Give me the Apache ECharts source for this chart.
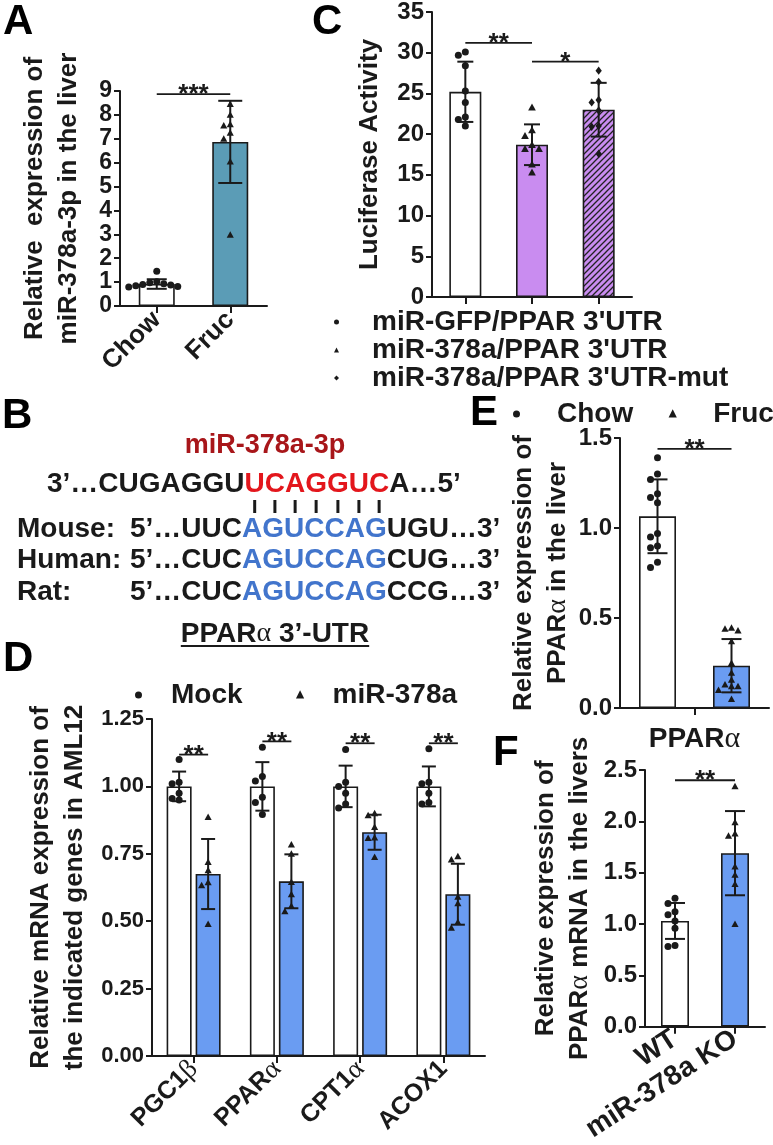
<!DOCTYPE html>
<html>
<head>
<meta charset="utf-8">
<script src="https://cdn.jsdelivr.net/npm/echarts@6.0.0/dist/echarts.min.js"></script>
<style>html,body{margin:0;padding:0;background:#fff;}#chart{width:773px;height:1145px;}</style>
</head>
<body>
<div id="chart"></div>
<script>
// ---------------- DATA ----------------
// Panel A
const catsA = ['Chow', 'Fruc'];
const meanA = [0.92, 6.87];
const sdA = [0.20, 1.72];
const ptsA = [
  [1.45, 1.02, 0.97, 0.93, 0.90, 0.88, 0.85, 0.82, 0.80],
  [8.45, 8.00, 7.60, 7.55, 7.25, 7.00, 6.05, 2.98]
];
const sigA = [[0, 1, 8.87, '***']];
const axisA = [0, 9, 1];

// Panel C
const catsC = ["miR-GFP/PPAR 3'UTR", "miR-378a/PPAR 3'UTR", "miR-378a/PPAR 3'UTR-mut"];
const meanC = [25.2, 18.7, 23.0];
const sdC = [3.7, 2.5, 3.3];
const ptsC = [
  [30.1, 29.7, 28.4, 25.3, 23.9, 22.1, 21.8, 21.0],
  [23.3, 20.5, 19.8, 18.7, 18.2, 18.2, 16.3, 15.3],
  [27.8, 26.4, 24.2, 23.9, 22.9, 21.0, 20.9, 17.6]
];
const sigC = [[0, 1, 31.2, '**'], [1, 2, 28.9, '*']];
const axisC = [0, 35, 5];

// Panel D
const catsD = ['PGC1β', 'PPARα', 'CPT1α', 'ACOX1'];
const seriesD = ['Mock', 'miR-378a'];
const meanMock = [1.0, 1.0, 1.0, 1.0];
const sdMock = [0.055, 0.09, 0.077, 0.074];
const ptsMock = [
  [1.10, 1.015, 1.01, 0.975, 0.95, 0.955],
  [1.145, 1.037, 1.02, 0.96, 0.94, 0.896],
  [1.137, 1.015, 1.0, 0.975, 0.935, 0.92],
  [1.14, 1.015, 1.01, 0.975, 0.94, 0.935]
];
const mean378 = [0.675, 0.648, 0.83, 0.60];
const sd378 = [0.13, 0.10, 0.065, 0.113];
const pts378 = [
  [0.886, 0.719, 0.689, 0.644, 0.633, 0.489],
  [0.784, 0.75, 0.645, 0.60, 0.556, 0.537],
  [0.90, 0.893, 0.849, 0.81, 0.808, 0.738],
  [0.741, 0.729, 0.59, 0.566, 0.497, 0.475]
];
const sigD = [1.118, 1.167, 1.16, 1.16];
const axisD = [0, 1.25, 0.25];

// Panel E
const catsE = ['PPARα'];
const seriesE = ['Chow', 'Fruc'];
const meanEChow = [1.065];
const sdEChow = [0.205];
const ptsEChow = [[1.39, 1.30, 1.27, 1.19, 1.17, 1.14, 0.97, 0.95, 0.90, 0.89, 0.81, 0.78]];
const meanEFruc = [0.235];
const sdEFruc = [0.148];
const ptsEFruc = [[0.445, 0.44, 0.43, 0.37, 0.25, 0.195, 0.157, 0.13, 0.12, 0.12, 0.10, 0.05]];
const sigE = 1.44;
const axisE = [0, 1.5, 0.5];

// Panel F
const catsF = ['WT', 'miR-378a KO'];
const meanF = [1.03, 1.69];
const sdF = [0.175, 0.41];
const ptsF = [
  [1.25, 1.20, 1.12, 1.09, 1.03, 0.96, 0.79, 0.78],
  [2.34, 1.99, 1.88, 1.86, 1.56, 1.48, 1.39, 1.00]
];
const sigF = [[0, 1, 2.40, '**']];
const axisF = [0, 2.5, 0.5];

// ---------------- STYLE ----------------
const FONT = '"Liberation Sans", Arial, Helvetica, sans-serif';
const GREEK = '"Liberation Serif", "DejaVu Serif", serif';
const INK = '#1a1a1a';
const TEAL = '#5b9cb6';
const PURPLE = '#c98cf0';
const BLUE = '#6a9cf2';
const RED = '#e3161c';
const DARKRED = '#a8161a';
const SEQBLUE = '#4275cc';

const mctx = document.createElement('canvas').getContext('2d');
function tw(text, size, weight, family) {
  mctx.font = weight + ' ' + size + 'px ' + family;
  return mctx.measureText(text).width;
}

function hatch() {
  const c = document.createElement('canvas');
  c.width = 6; c.height = 6;
  const x = c.getContext('2d');
  x.fillStyle = PURPLE; x.fillRect(0, 0, 6, 6);
  x.strokeStyle = '#222'; x.lineWidth = 1.3;
  x.beginPath();
  x.moveTo(0, 6); x.lineTo(6, 0);
  x.moveTo(-1, 1); x.lineTo(1, -1);
  x.moveTo(5, 7); x.lineTo(7, 5);
  x.stroke();
  return c;
}

function greekFmt(v) { return String(v).replace(/([αβ])/g, '{g|$1}'); }

function yAx(g, ax, dec, name, gap, fs) {
  return {
    type: 'value', gridIndex: g, min: ax[0], max: ax[1], interval: ax[2],
    axisLine: { show: true, lineStyle: { color: INK, width: 2 } },
    axisTick: { show: true, length: 6, lineStyle: { color: INK, width: 2 } },
    axisLabel: { fontSize: fs, fontWeight: 'bold', color: INK, fontFamily: FONT, margin: 8,
      formatter: v => v.toFixed(dec) },
    splitLine: { show: false },
    name: name, nameLocation: 'middle', nameRotate: 90, nameGap: gap,
    nameTextStyle: { fontSize: 26, fontWeight: 'bold', color: INK, fontFamily: FONT, lineHeight: 34,
      rich: { g: { fontFamily: GREEK, fontWeight: 'normal', fontSize: 28, color: INK, lineHeight: 34 } } }
  };
}

function xAx(g, data, rot, fs, margin, show) {
  return {
    type: 'category', gridIndex: g, data: data,
    axisLine: { show: true, lineStyle: { color: INK, width: 2 } },
    axisTick: { show: true, alignWithLabel: true, length: 7, lineStyle: { color: INK, width: 2 } },
    axisLabel: { show: show, interval: 0, rotate: rot, fontSize: fs, fontWeight: 'bold', color: INK,
      fontFamily: FONT, margin: margin, formatter: greekFmt,
      rich: { g: { fontFamily: GREEK, fontWeight: 'normal', fontSize: fs + 2, color: INK } } },
    splitLine: { show: false }
  };
}

function shapeAt(kind, x, y, s) {
  if (kind === 'circle') return { type: 'circle', shape: { cx: x, cy: y, r: s / 2 }, style: { fill: INK } };
  if (kind === 'triangle') return { type: 'polygon', shape: { points: [[x, y - s * 0.55], [x - s * 0.55, y + s * 0.45], [x + s * 0.55, y + s * 0.45]] }, style: { fill: INK } };
  return { type: 'polygon', shape: { points: [[x, y - s * 0.6], [x + s * 0.45, y], [x, y + s * 0.6], [x - s * 0.45, y]] }, style: { fill: INK } };
}

// error bars + individual points for one bar slot
function marks(o) {
  return {
    type: 'custom', name: o.name, xAxisIndex: o.g, yAxisIndex: o.g, z: 5,
    itemStyle: { color: INK }, encode: { x: 0, y: 1 },
    data: o.idx.map(i => [i, o.means[i], o.sds[i]]),
    renderItem: function (params, api) {
      const i = api.value(0), m = api.value(1), s = api.value(2);
      const c0 = api.coord([i, m]);
      const cx = c0[0] + (o.slot - (o.nSlots - 1) / 2) * (o.barW + o.gap);
      const yt = api.coord([i, m + s])[1], yb = api.coord([i, m - s])[1];
      const st = { stroke: INK, lineWidth: 2 };
      const ch = [
        { type: 'line', shape: { x1: cx, y1: yt, x2: cx, y2: yb }, style: st },
        { type: 'line', shape: { x1: cx - o.cap, y1: yt, x2: cx + o.cap, y2: yt }, style: st },
        { type: 'line', shape: { x1: cx - o.cap, y1: yb, x2: cx + o.cap, y2: yb }, style: st }
      ];
      const ys = o.pts[i].map(v => api.coord([i, v])[1]).sort((a, b) => a - b);
      const placed = [];
      const d = o.size;
      ys.forEach(y => {
        for (let k = 0; k < 16; k++) {
          const off = (k === 0 ? 0 : (k % 2 ? -1 : 1) * Math.ceil(k / 2)) * d;
          const x = cx + off;
          if (placed.every(p => (p[0] - x) * (p[0] - x) + (p[1] - y) * (p[1] - y) >= d * d * 0.9)) {
            placed.push([x, y]); break;
          }
        }
      });
      placed.forEach(p => ch.push(shapeAt(o.shape, p[0], p[1], o.size)));
      return { type: 'group', children: ch };
    }
  };
}

function sig(g, list, offs, fs) {
  return {
    type: 'custom', xAxisIndex: g, yAxisIndex: g, z: 6, silent: true,
    encode: { x: [0, 1], y: 2 },
    data: list.map(r => [r[0], r[1], r[2]]),
    renderItem: function (params, api) {
      const a = api.coord([api.value(0), api.value(2)]);
      const b = api.coord([api.value(1), api.value(2)]);
      const x1 = a[0] + offs[0], x2 = b[0] + offs[1], y = a[1];
      return { type: 'group', children: [
        { type: 'line', shape: { x1: x1, y1: y, x2: x2, y2: y }, style: { stroke: INK, lineWidth: 1.8 } },
        { type: 'text', style: { text: list[params.dataIndex][3], x: (x1 + x2) / 2, y: y + 1,
          align: 'center', verticalAlign: 'middle', fontSize: fs, fontWeight: 'bold', fontFamily: FONT, fill: INK } }
      ] };
    }
  };
}

function barS(name, g, vals, colors, w, gap) {
  return {
    type: 'bar', name: name, xAxisIndex: g, yAxisIndex: g, barWidth: w, barGap: gap, z: 2, silent: true,
    itemStyle: { borderColor: INK, borderWidth: 1.6 },
    data: vals.map((v, i) => ({ value: v, itemStyle: { color: colors[i % colors.length] } }))
  };
}

// ---------------- SERIES ----------------
const series = [];
// A (grid 0)
series.push(barS('A bars', 0, meanA, ['#ffffff', TEAL], 36, '0%'));
series.push(marks({ name: 'A Chow', g: 0, idx: [0], means: meanA, sds: sdA, pts: ptsA, shape: 'circle', slot: 0, nSlots: 1, barW: 36, gap: 0, cap: 10, size: 7 }));
series.push(marks({ name: 'A Fruc', g: 0, idx: [1], means: meanA, sds: sdA, pts: ptsA, shape: 'triangle', slot: 0, nSlots: 1, barW: 36, gap: 0, cap: 12, size: 6.5 }));
series.push(sig(0, sigA, [0, 0], 26));
// C (grid 1)
series.push(barS('C bars', 1, meanC, ['#ffffff', PURPLE, { image: hatch(), repeat: 'repeat' }], 32, '0%'));
['circle', 'triangle', 'diamond'].forEach((sh, k) => {
  series.push(marks({ name: catsC[k], g: 1, idx: [k], means: meanC, sds: sdC, pts: ptsC, shape: sh, slot: 0, nSlots: 1, barW: 32, gap: 0, cap: 8, size: 7 }));
});
series.push(sig(1, sigC, [0, 0], 26));
// D (grid 2)
series.push(barS(seriesD[0], 2, meanMock, ['#ffffff'], 25, '16%'));
series.push(barS(seriesD[1], 2, mean378, [BLUE], 25, '16%'));
series.push(marks({ name: seriesD[0], g: 2, idx: [0, 1, 2, 3], means: meanMock, sds: sdMock, pts: ptsMock, shape: 'circle', slot: 0, nSlots: 2, barW: 25, gap: 4, cap: 7, size: 7 }));
series.push(marks({ name: seriesD[1], g: 2, idx: [0, 1, 2, 3], means: mean378, sds: sd378, pts: pts378, shape: 'triangle', slot: 1, nSlots: 2, barW: 25, gap: 4, cap: 7, size: 6.5 }));
series.push(sig(2, catsD.map((c, i) => [i, i, sigD[i], '**']), [-14.5, 14.5], 26));
// E (grid 3)
series.push(barS(seriesE[0], 3, meanEChow, ['#ffffff'], 37, '100%'));
series.push(barS(seriesE[1], 3, meanEFruc, [BLUE], 37, '100%'));
series.push(marks({ name: seriesE[0], g: 3, idx: [0], means: meanEChow, sds: sdEChow, pts: ptsEChow, shape: 'circle', slot: 0, nSlots: 2, barW: 37, gap: 37, cap: 10, size: 7 }));
series.push(marks({ name: seriesE[1], g: 3, idx: [0], means: meanEFruc, sds: sdEFruc, pts: ptsEFruc, shape: 'triangle', slot: 1, nSlots: 2, barW: 37, gap: 37, cap: 10, size: 6.5 }));
series.push(sig(3, [[0, 0, sigE, '**']], [-37, 37], 26));
// F (grid 4)
series.push(barS('F bars', 4, meanF, ['#ffffff', BLUE], 28, '0%'));
series.push(marks({ name: 'F WT', g: 4, idx: [0], means: meanF, sds: sdF, pts: ptsF, shape: 'circle', slot: 0, nSlots: 1, barW: 28, gap: 0, cap: 10, size: 7 }));
series.push(marks({ name: 'F KO', g: 4, idx: [1], means: meanF, sds: sdF, pts: ptsF, shape: 'triangle', slot: 0, nSlots: 1, barW: 28, gap: 0, cap: 10, size: 6.5 }));
series.push(sig(4, sigF, [0, 0], 26));

// ---------------- GRAPHIC (panel letters, panel B) ----------------
const graphic = [];
[['A', 3, 22], ['B', 2, 416], ['C', 312, 22], ['D', 3, 659], ['E', 470, 413], ['F', 493, 753]].forEach(L => {
  graphic.push({ type: 'text', x: L[1], y: L[2], style: { text: L[0], fontSize: 42, fontWeight: 'bold', fontFamily: FONT, fill: '#000', align: 'left', verticalAlign: 'middle' } });
});
function seq(x, y, parts, fs) {
  const rich = {}; let str = '';
  parts.forEach((p, j) => {
    rich['p' + j] = { fill: p[1], fontSize: fs, fontWeight: p[2] || 'bold', fontFamily: p[3] || FONT };
    str += '{p' + j + '|' + p[0] + '}';
  });
  return { type: 'text', x: x, y: y, style: { text: str, rich: rich, fontSize: fs, fontWeight: 'bold', fontFamily: FONT, align: 'left', verticalAlign: 'middle' } };
}
const SF = 28;
graphic.push({ type: 'text', x: 265, y: 446, style: { text: 'miR-378a-3p', fontSize: 27, fontWeight: 'bold', fontFamily: FONT, fill: DARKRED, align: 'center', verticalAlign: 'middle' } });
const pre3 = '3’…CUGAGGU', seed = 'UCAGGUC';
graphic.push(seq(47, 484, [[pre3, INK], [seed, RED], ['A…5’', INK]], SF));
let bx = 47 + tw(pre3, SF, 'bold', FONT);
for (const ch of seed) {
  const w = tw(ch, SF, 'bold', FONT);
  graphic.push({ type: 'line', shape: { x1: bx + w / 2, y1: 500, x2: bx + w / 2, y2: 513 }, style: { stroke: INK, lineWidth: 3 } });
  bx += w;
}
[['Mouse:', 'UUC', 'UGU', 529], ['Human:', 'CUC', 'CUG', 560], ['Rat:', 'CUC', 'CCG', 592]].forEach(r => {
  graphic.push(seq(17, r[3], [[r[0], INK]], SF));
  graphic.push(seq(130, r[3], [['5’…' + r[1], INK], ['AGUCCAG', SEQBLUE], [r[2] + '…3’', INK]], SF));
});
const utrParts = [['PPAR', INK], ['α', INK, 'normal', GREEK], [' 3’-UTR', INK]];
const utrW = tw('PPAR', SF, 'bold', FONT) + tw('α', SF, 'normal', GREEK) + tw(' 3’-UTR', SF, 'bold', FONT);
graphic.push(seq(275 - utrW / 2, 634, utrParts, SF));
graphic.push({ type: 'line', shape: { x1: 275 - utrW / 2, y1: 646, x2: 275 + utrW / 2, y2: 646 }, style: { stroke: INK, lineWidth: 2 } });

// ---------------- OPTION ----------------
const legText = (pad) => ({ fontSize: 28, fontWeight: 'bold', fontFamily: FONT, color: INK, lineHeight: 26, padding: [0, 0, 0, pad] });
const option = {
  animation: false,
  backgroundColor: '#ffffff',
  grid: [
    { left: 120, top: 91, width: 147, height: 215 },
    { left: 432, top: 11, width: 200, height: 286 },
    { left: 152, top: 719, width: 333, height: 337 },
    { left: 620, top: 438, width: 149, height: 270 },
    { left: 645, top: 770, width: 120, height: 266 }
  ],
  xAxis: [
    xAx(0, catsA, 45, 26, 10, true),
    xAx(1, catsC, 0, 24, 8, false),
    xAx(2, catsD, 45, 25, 9, true),
    xAx(3, catsE, 0, 28, 16, true),
    xAx(4, catsF, 33, 28, 10, true)
  ],
  yAxis: [
    yAx(0, axisA, 0, 'Relative  expression of\nmiR-378a-3p in the liver', 34, 23),
    yAx(1, axisC, 0, 'Luciferase Activity', 45, 24),
    yAx(2, axisD, 2, 'Relative mRNA expression of\nthe indicated genes in AML12', 60, 22),
    yAx(3, axisE, 1, 'Relative expression of\nPPAR{g|α} in the liver', 44, 24),
    yAx(4, axisF, 1, 'Relative expression of\nPPAR{g|α} mRNA in the livers', 48, 24)
  ],
  legend: [
    { orient: 'vertical', left: 334, top: 308, padding: 0, itemWidth: 5, itemHeight: 5, itemGap: 0, selectedMode: false,
      itemStyle: { color: INK }, textStyle: legText(28),
      data: [{ name: catsC[0], icon: 'circle' }, { name: catsC[1], icon: 'triangle' }, { name: catsC[2], icon: 'diamond' }] },
    { orient: 'horizontal', left: 135, top: 681, width: 400, padding: 0, itemWidth: 5, itemHeight: 5, itemGap: 54, selectedMode: false,
      itemStyle: { color: INK }, textStyle: legText(25),
      data: [{ name: seriesD[0], icon: 'circle' }, { name: seriesD[1], icon: 'triangle' }] },
    { orient: 'horizontal', left: 513, top: 400, width: 300, padding: 0, itemWidth: 5, itemHeight: 5, itemGap: 36, selectedMode: false,
      itemStyle: { color: INK }, textStyle: legText(33),
      data: [{ name: seriesE[0], icon: 'circle' }, { name: seriesE[1], icon: 'triangle' }] }
  ],
  graphic: graphic,
  series: series
};
const chart = echarts.init(document.getElementById('chart'), null, { renderer: 'canvas' });
chart.setOption(option);
</script>
</body>
</html>
